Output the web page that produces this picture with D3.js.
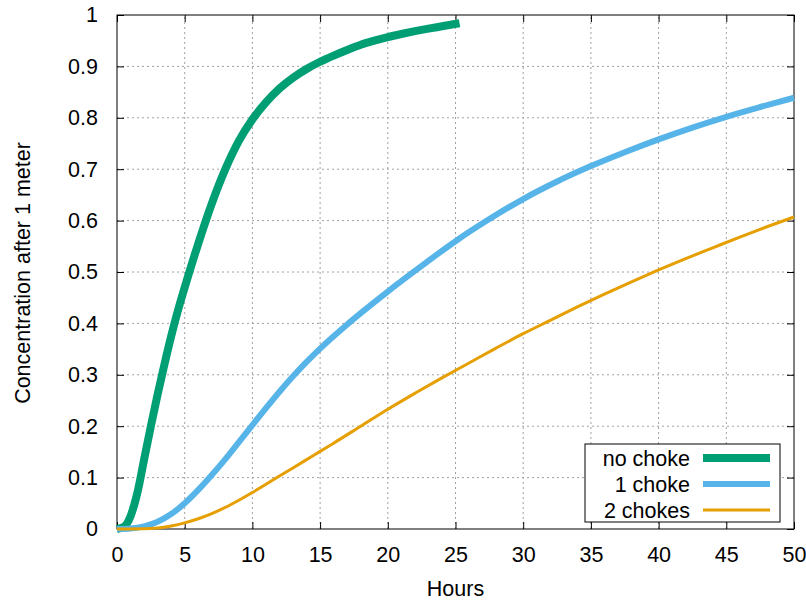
<!DOCTYPE html>
<html>
<head>
<meta charset="utf-8">
<script src="https://cdnjs.cloudflare.com/ajax/libs/d3/7.8.5/d3.min.js"></script>
<style>
  body { margin: 0; background: #fff; }
  svg text { font-family: "Liberation Sans", Arial, sans-serif; fill: #000; }
</style>
</head>
<body>
<div id="chart"></div>
<script>
// concentration curves
var noChokeHours = [0, 0.5, 1, 1.5, 2, 2.5, 3, 3.5, 4, 4.5, 5, 6, 7, 8, 9, 10, 11, 12, 13, 14, 15, 16, 17, 18, 19, 20, 21, 22, 23, 24, 25.3];
var noChokeConc  = [0, 0.004, 0.025, 0.07, 0.135, 0.2, 0.262, 0.32, 0.375, 0.425, 0.47, 0.555, 0.633, 0.7, 0.755, 0.797, 0.83, 0.857, 0.878, 0.895, 0.909, 0.921, 0.932, 0.942, 0.95, 0.957, 0.963, 0.9685, 0.9735, 0.978, 0.984];

var oneChokeHours = [0, 1, 2, 3, 4, 5, 6, 7, 8, 9, 10, 11, 12, 13, 14, 15, 16, 17, 18, 20, 22, 25, 27.5, 30, 32.5, 35, 37.5, 40, 42.5, 45, 47.5, 50];
var oneChokeConc  = [0, 0.001, 0.005, 0.014, 0.029, 0.05, 0.076, 0.105, 0.136, 0.169, 0.202, 0.235, 0.267, 0.297, 0.325, 0.351, 0.375, 0.398, 0.42, 0.462, 0.502, 0.56, 0.603, 0.642, 0.676, 0.706, 0.733, 0.758, 0.781, 0.802, 0.821, 0.839];

var twoChokeHours = [0, 2, 3, 4, 5, 6, 7, 8, 9, 10, 12, 14, 15, 16, 18, 20, 22, 24, 26, 28, 30, 32, 34, 36, 38, 40, 42, 44, 46, 48, 50];
var twoChokeConc  = [0, 0.0005, 0.002, 0.006, 0.012, 0.02, 0.03, 0.042, 0.056, 0.071, 0.103, 0.135, 0.151, 0.167, 0.2, 0.233, 0.264, 0.294, 0.323, 0.352, 0.38, 0.406, 0.432, 0.457, 0.481, 0.504, 0.526, 0.547, 0.568, 0.588, 0.607];

var seriesNames = ["no choke", "1 choke", "2 chokes"];
var seriesColors = ["#009e73", "#56b4e9", "#e69f00"];
var seriesWidths = [8, 6, 3];

var xTicks = [0, 5, 10, 15, 20, 25, 30, 35, 40, 45, 50];
var yTicks = [0, 0.1, 0.2, 0.3, 0.4, 0.5, 0.6, 0.7, 0.8, 0.9, 1];

var width = 806, height = 603;
var margin = {left: 117, right: 12, top: 15, bottom: 74};
var fontSize = "21.5px";

var svg = d3.select("#chart").append("svg")
    .attr("width", width)
    .attr("height", height);

var x = d3.scaleLinear().domain([0, 50]).range([margin.left, width - margin.right]);
var y = d3.scaleLinear().domain([0, 1]).range([height - margin.bottom, margin.top]);

// grid
svg.append("g").selectAll("line").data(xTicks.slice(1, -1))
  .enter().append("line")
    .attr("x1", function(d) { return x(d); }).attr("x2", function(d) { return x(d); })
    .attr("y1", y(0)).attr("y2", y(1))
    .attr("stroke", "#a0a0a0").attr("stroke-width", 1).attr("stroke-dasharray", "2,3");
svg.append("g").selectAll("line").data(yTicks.slice(1, -1))
  .enter().append("line")
    .attr("y1", function(d) { return y(d); }).attr("y2", function(d) { return y(d); })
    .attr("x1", x(0)).attr("x2", x(50))
    .attr("stroke", "#a0a0a0").attr("stroke-width", 1).attr("stroke-dasharray", "2,3");

// axes (ticks inward, mirrored)
var tickLen = 7;
var xAxis = svg.append("g").attr("transform", "translate(0," + y(0) + ")")
    .call(d3.axisBottom(x).tickValues(xTicks).tickSize(-tickLen).tickPadding(18).tickFormat(d3.format("d")));
var xTop = svg.append("g").attr("transform", "translate(0," + y(1) + ")")
    .call(d3.axisTop(x).tickValues(xTicks).tickSize(-tickLen).tickFormat(""));
var yAxis = svg.append("g").attr("transform", "translate(" + x(0) + ",0)")
    .call(d3.axisLeft(y).tickValues(yTicks).tickSize(-tickLen).tickPadding(19).tickFormat(function(d) { return d === 0 || d === 1 ? d3.format("d")(d) : d3.format(".1f")(d); }));
var yRight = svg.append("g").attr("transform", "translate(" + x(50) + ",0)")
    .call(d3.axisRight(y).tickValues(yTicks).tickSize(-tickLen).tickFormat(""));

[xAxis, xTop, yAxis, yRight].forEach(function(g) {
  g.select(".domain").remove();
  g.selectAll(".tick line").attr("stroke", "#000");
  g.selectAll("text").style("font-size", fontSize).attr("fill", "#000");
});

svg.append("rect")
    .attr("x", x(0)).attr("y", y(1))
    .attr("width", x(50) - x(0)).attr("height", y(0) - y(1))
    .attr("fill", "none").attr("stroke", "#000").attr("stroke-width", 1);

// curves
var line = d3.line()
    .x(function(d) { return x(d[0]); })
    .y(function(d) { return y(d[1]); })
    .curve(d3.curveMonotoneX);

var series = [
  d3.zip(noChokeHours, noChokeConc),
  d3.zip(oneChokeHours, oneChokeConc),
  d3.zip(twoChokeHours, twoChokeConc)
];

series.forEach(function(s, i) {
  svg.append("path")
      .datum(s)
      .attr("d", line)
      .attr("fill", "none")
      .attr("stroke", seriesColors[i])
      .attr("stroke-width", seriesWidths[i])
      .attr("stroke-linecap", "butt");
});

// axis titles
svg.append("text")
    .attr("x", (x(0) + x(50)) / 2).attr("y", 596)
    .attr("text-anchor", "middle").style("font-size", fontSize)
    .text("Hours");
svg.append("text")
    .attr("transform", "translate(30," + (y(0.5) + 1) + ") rotate(-90)")
    .attr("text-anchor", "middle").style("font-size", fontSize)
    .text("Concentration after 1 meter");

// legend
var legend = svg.append("g");
legend.append("rect")
    .attr("x", 585).attr("y", 444).attr("width", 195).attr("height", 78)
    .attr("fill", "#fff").attr("stroke", "#000").attr("stroke-width", 1);
seriesNames.forEach(function(name, i) {
  var ly = 458 + i * 26;
  legend.append("text")
      .attr("x", 690).attr("y", ly).attr("dy", "0.35em")
      .attr("text-anchor", "end").style("font-size", fontSize)
      .text(name);
  legend.append("line")
      .attr("x1", 703).attr("x2", 770).attr("y1", ly).attr("y2", ly)
      .attr("stroke", seriesColors[i]).attr("stroke-width", seriesWidths[i]);
});
</script>
</body>
</html>
